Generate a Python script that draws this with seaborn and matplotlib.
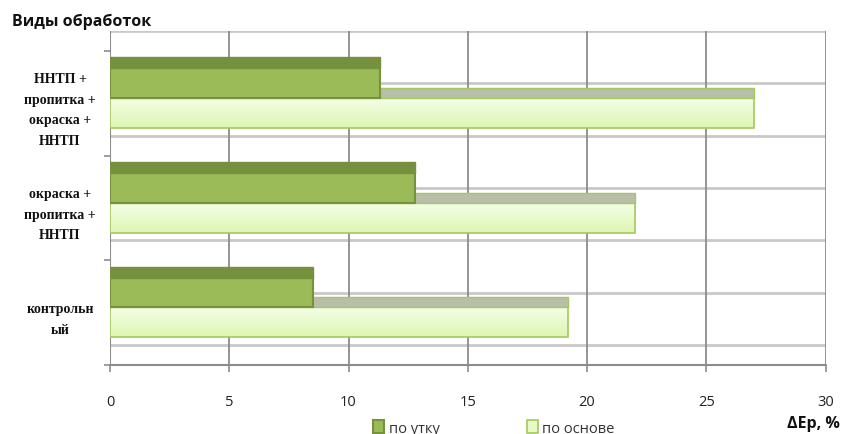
import matplotlib
matplotlib.use("Agg")
import matplotlib.pyplot as plt
import seaborn as sns
import pandas as pd
import numpy as np
from matplotlib.patches import Patch

# ---- data ----
categories = ["ННТП +\nпропитка +\nокраска +\nННТП",
              "окраска +\nпропитка +\nННТП",
              "контрольн\nый"]
series_names = ["по утку", "по основе"]
po_utku = [11.3, 12.8, 8.5]
po_osnove = [27.0, 22.0, 19.2]
x_ticks = [0, 5, 10, 15, 20, 25, 30]
title_text = "Виды обработок"
xlabel_text = "ΔEp, %"

df = pd.DataFrame({
    "category": categories * 2,
    "series": [series_names[0]] * 3 + [series_names[1]] * 3,
    "value": po_utku + po_osnove,
})

sns.set_theme(style="white")
plt.rcParams["font.family"] = ["Open Sans", "DejaVu Sans"]

fig = plt.figure(figsize=(8.41, 4.35), dpi=100)
ax = fig.add_axes([110 / 841, 1 - 366 / 435, (825.5 - 110) / 841, (366 - 32) / 435])

utku_face, utku_edge, utku_top = "#9BBB59", "#76923C", "#76913E"
osn_face, osn_edge, osn_top = "#E6FAC8", "#A3C95E", "#B8BEA8"

sns.barplot(data=df, x="value", y="category", hue="series", orient="h",
            order=categories, hue_order=series_names,
            palette=[utku_face, osn_face], saturation=1, width=0.57, dodge=True,
            legend=False, ax=ax, zorder=3)

bar_h = 0.57 / 2
ypos = np.arange(len(categories))

# style bars
for p in ax.containers[0]:
    p.set_edgecolor(utku_edge); p.set_linewidth(1.5); p.set_zorder(5)
    p.set_facecolor(utku_face)
for p in ax.containers[1]:
    p.set_edgecolor(osn_edge); p.set_linewidth(1.2); p.set_zorder(3)
    p.set_facecolor("none")

# gradient fill for the light bars
grad = np.linspace(0, 1, 64).reshape(-1, 1)
cmap = matplotlib.colors.LinearSegmentedColormap.from_list("g", ["#F4FFE6", "#DDF5B2"])
for p in ax.containers[1]:
    x0, y0 = p.get_x(), p.get_y()
    w, h = p.get_width(), p.get_height()
    im = ax.imshow(grad, extent=(x0, x0 + w, y0 + h, y0), aspect="auto",
                   cmap=cmap, zorder=2.9, interpolation="bicubic")
    im.set_clip_path(p)

# 3D top faces
band_u = 0.105
band_o = 0.095
ax.barh(ypos - bar_h - band_u / 2, po_utku, height=band_u, color=utku_top,
        edgecolor=utku_edge, linewidth=1.0, zorder=5)
ax.barh(ypos - band_o / 2, po_osnove, height=band_o, color=osn_top,
        edgecolor=osn_edge, linewidth=1.0, zorder=4)

# limits
ax.set_xlim(0, 30)
ax.set_ylim(2.55, -0.64)

# back wall gridlines
for yy in np.arange(-0.64, 2.5, 0.5):
    ax.axhline(yy, color="#C9C9C9", lw=2.0, zorder=1)
for xx in x_ticks:
    ax.axvline(xx, color="#8C8C8C", lw=1.3, zorder=1)

for s in ["top", "right", "left", "bottom"]:
    ax.spines[s].set_visible(False)
ax.axhline(2.55, color="#8C8C8C", lw=1.5, zorder=1, clip_on=False)
ax.axvline(0, color="#8C8C8C", lw=1.5, zorder=1)

# x ticks
ax.set_xticks(x_ticks)
ax.set_xticklabels([str(v) for v in x_ticks], fontsize=10.5, color="#222222")
ax.tick_params(axis="x", which="major", length=5, width=1.2, color="#8C8C8C",
               pad=16, bottom=True)

# y ticks: labels at category centres, tick marks at boundaries
ax.set_yticks(ypos + 0.06)
ax.set_yticklabels(categories, fontsize=10, family=["Liberation Serif"],
                   fontweight="bold", color="#111111", linespacing=1.75)
for lab in ax.get_yticklabels():
    lab.set_ha("center")
    lab.set_multialignment("center")
ax.tick_params(axis="y", which="major", length=0, pad=36)
ax.set_yticks([-0.45, 0.55, 1.55, 2.55], minor=True)
ax.tick_params(axis="y", which="minor", length=4, width=1.2, color="#8C8C8C", left=True)
ax.set_xlabel("")
ax.set_ylabel("")

fig.text(12 / 841, 1 - 22 / 435, title_text, fontsize=11.5, fontweight="bold",
         ha="left", va="center", color="#111111")
fig.text(840 / 841, 1 - 424 / 435, xlabel_text, fontsize=11.5, fontweight="bold",
         ha="right", va="center", color="#111111")

handles = [Patch(facecolor=utku_face, edgecolor=utku_edge, linewidth=1.5),
           Patch(facecolor=osn_face, edgecolor=osn_edge, linewidth=1.2)]
fig.legend(handles, series_names, loc="center", bbox_to_anchor=(494 / 841, 1 - 429 / 435),
           ncol=2, frameon=False, fontsize=10.5, handlelength=0.75, handleheight=0.9,
           handletextpad=0.3, columnspacing=6.0, labelcolor="#333333")

fig.savefig("out.png", dpi=100)
